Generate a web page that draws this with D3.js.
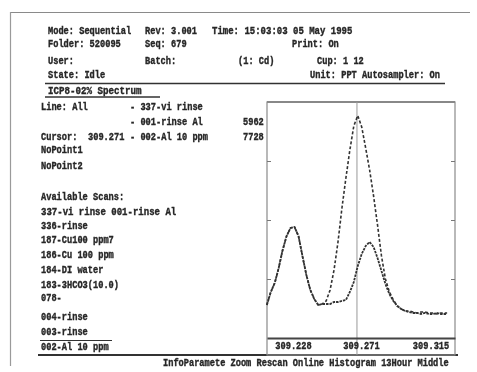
<!DOCTYPE html>
<html><head><meta charset="utf-8">
<script src="https://cdn.jsdelivr.net/npm/d3@7/dist/d3.min.js"></script>
<style>body{margin:0;background:#fff}svg{display:block}text{font-family:"Liberation Mono","DejaVu Sans Mono",monospace;font-weight:bold;font-size:10px;fill:#262626;stroke:#262626;stroke-width:0.35}</style>
</head><body><svg id="c" width="477" height="372"></svg>
<script>
const wavelengths = [309.2140,309.2165,309.2190,309.2215,309.2240,309.2265,309.2290,309.2315,309.2340,309.2365,309.2390,309.2415,309.2440,309.2465,309.2490,309.2515,309.2540,309.2565,309.2590,309.2615,309.2640,309.2665,309.2690,309.2715,309.2740,309.2765,309.2790,309.2815,309.2840,309.2865,309.2890,309.2915,309.2940,309.2965,309.2990,309.3015,309.3040,309.3065,309.3090,309.3115,309.3140,309.3165,309.3190,309.3215,309.3240,309.3265,309.3280];
const seriesAl10 = [1147,1599,1911,2433,3058,3545,3823,3857,3545,2850,2189,1668,1355,1147,1182,1286,1668,2363,3336,4518,5560,6533,7367,7728,7332,6603,5838,4935,3927,2850,2050,1599,1321,1112,1008,938,938,904,869,904,904,869,869,834,869,869,869];
const seriesRinse = [1147,1599,1911,2433,3058,3545,3823,3857,3545,2850,2189,1668,1355,1147,1182,1182,1182,1251,1251,1286,1321,1599,1946,2502,2919,3197,3336,3162,2780,2328,1877,1529,1286,1112,1008,938,904,869,869,834,869,834,834,869,834,834,834];
const xTickLabels = [309.228, 309.271, 309.315];
const yTickValues = [2050, 4100, 6150];
const cursorWl = 309.271;
const yMax = 8200;

const headerRows = [
  [[48,"Mode: Sequential"],[145,"Rev: 3.001"],[212,"Time: 15:03:03  05 May 1995"]],
  [[48,"Folder: 520095"],[145,"Seq: 679"],[292,"Print: On"]],
  [[48,"User:"],[145,"Batch:"],[238,"(1: Cd)"],[317,"Cup: 1 12"]],
  [[48,"State: Idle"],[310,"Unit: PPT Autosampler: On"]]
];
const legendRows = [
  [[41,"Line: All"],[130,"- 337-vi rinse"]],
  [[130,"- 001-rinse Al"],[243,"5962"]],
  [[41,"Cursor:"],[88,"309.271"],[130,"- 002-Al 10 ppm"],[243,"7728"]],
  [[41,"NoPoint1"]],
  [[41,"NoPoint2"]]
];
const scans = ["Available Scans:","337-vi rinse  001-rinse Al","336-rinse","187-Cu100 ppm7","186-Cu 100 ppm","184-DI water","183-3HCO3(10.0)","078-","004-rinse","003-rinse","002-Al 10 ppm"];
const menuText = "InfoParamete Zoom Rescan Online Histogram 13Hour Middle";
const CW = 5.2;

const svg = d3.select("#c");
const defs = svg.append("defs");
defs.append("filter").attr("id","b").append("feGaussianBlur").attr("stdDeviation",0.4);
const g = svg.append("g").attr("filter","url(#b)");
function txt(x,yy,t){
  return g.append("text").attr("x",x).attr("y",yy).attr("textLength",(t.length*CW).toFixed(1)).attr("lengthAdjust","spacingAndGlyphs").text(t);
}

// frame
g.append("line").attr("x1",10).attr("x2",470).attr("y1",12.5).attr("y2",12.5).attr("stroke","#8a8a8a").attr("stroke-width",1.2);
g.append("line").attr("x1",10.5).attr("x2",10.5).attr("y1",12).attr("y2",366).attr("stroke","#9a9a9a").attr("stroke-width",1.2);

const hy = [34,47,64,78];
headerRows.forEach((r,i)=>r.forEach(([x,t])=>txt(x,hy[i],t)));
g.append("line").attr("x1",45).attr("x2",445).attr("y1",83.5).attr("y2",83.5).attr("stroke","#333").attr("stroke-width",1.4);
txt(48,94,"ICP8-02%  Spectrum");
g.append("line").attr("x1",45).attr("x2",160).attr("y1",97).attr("y2",97).attr("stroke","#333").attr("stroke-width",1.3);

const ly = [110,125,140,153,169];
legendRows.forEach((r,i)=>r.forEach(([x,t])=>txt(x,ly[i],t)));
const sy = [200,215,229,243,258,273,288,301,320,335,350];
scans.forEach((t,i)=>txt(41,sy[i],t));
g.append("line").attr("x1",40).attr("x2",112).attr("y1",340.5).attr("y2",340.5).attr("stroke","#333").attr("stroke-width",1.2);
g.append("line").attr("x1",38).attr("x2",458).attr("y1",355).attr("y2",355).attr("stroke","#333").attr("stroke-width",1.8);
g.append("text").attr("transform","translate(163,366) scale(0.867,1)").text(menuText);

// plot
const L=267,R=455,T=102,B=338,FB=355;
const x = d3.scaleLinear().domain([309.2141,309.3330]).range([L,R]);
const y = d3.scaleLinear().domain([0,yMax]).range([B,T]);
g.append("rect").attr("x",L).attr("y",T).attr("width",R-L).attr("height",FB-T).attr("fill","none").attr("stroke","#8a8a8a").attr("stroke-width",1.2);
g.append("line").attr("x1",L).attr("x2",R).attr("y1",T).attr("y2",T).attr("stroke","#888").attr("stroke-width",2);
g.append("line").attr("x1",x(cursorWl)).attr("x2",x(cursorWl)).attr("y1",T).attr("y2",FB).attr("stroke","#999").attr("stroke-width",1);

const ax = g.append("g").attr("transform",`translate(0,${B})`)
  .call(d3.axisBottom(x).tickValues(xTickLabels).tickSize(0).tickPadding(4).tickFormat(d3.format(".3f")));
ax.select(".domain").attr("stroke","#444").attr("stroke-width",2);
ax.selectAll("text").attr("dx",4).attr("textLength",7*CW).attr("lengthAdjust","spacingAndGlyphs")
  .style("font-family",'"Liberation Mono",monospace').style("font-weight","bold").style("font-size","10px").attr("fill","#262626");

const al = g.append("g").attr("transform",`translate(${L},0)`).call(d3.axisLeft(y).tickValues(yTickValues).tickSize(-4).tickFormat(""));
const ar = g.append("g").attr("transform",`translate(${R},0)`).call(d3.axisRight(y).tickValues(yTickValues).tickSize(-4).tickFormat(""));
[al,ar].forEach(a=>{a.select(".domain").remove();a.selectAll("line").attr("stroke","#777");});

const line = d3.line().x((d,i)=>x(wavelengths[i])).y(d=>y(d)).curve(d3.curveLinear);
g.append("path").datum(seriesRinse).attr("d",line).attr("fill","none").attr("stroke","#333").attr("stroke-width",1.8).attr("stroke-dasharray","2.5,1");
g.append("path").datum(seriesAl10).attr("d",line).attr("fill","none").attr("stroke","#333").attr("stroke-width",1.6).attr("stroke-dasharray","3,2");
</script></body></html>
